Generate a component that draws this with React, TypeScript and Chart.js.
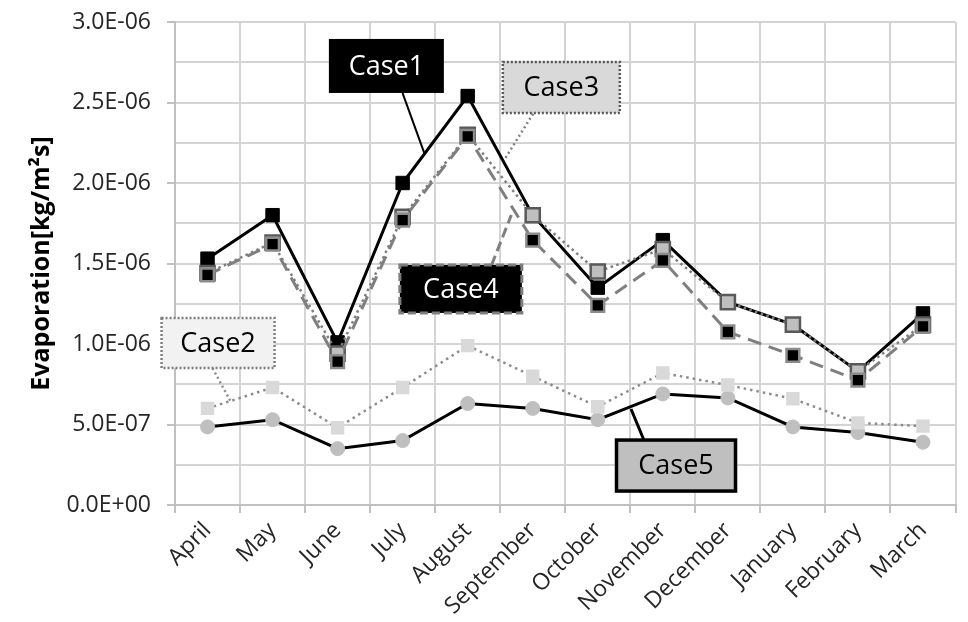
import { useEffect, useRef } from 'react';
import { Chart, registerables } from 'chart.js';

Chart.register(...registerables);

const months = ['April', 'May', 'June', 'July', 'August', 'September', 'October', 'November', 'December', 'January', 'February', 'March'];
const case1 = [1.53e-6, 1.80e-6, 1.01e-6, 2.00e-6, 2.54e-6, 1.80e-6, 1.35e-6, 1.645e-6, 1.26e-6, 1.12e-6, 0.83e-6, 1.19e-6];
const case2 = [0.60e-6, 0.73e-6, 0.48e-6, 0.73e-6, 0.99e-6, 0.80e-6, 0.61e-6, 0.82e-6, 0.745e-6, 0.66e-6, 0.51e-6, 0.49e-6];
const case3 = [1.44e-6, 1.63e-6, 0.94e-6, 1.79e-6, 2.30e-6, 1.80e-6, 1.45e-6, 1.59e-6, 1.26e-6, 1.12e-6, 0.83e-6, 1.12e-6];
const case4 = [1.43e-6, 1.62e-6, 0.89e-6, 1.77e-6, 2.29e-6, 1.645e-6, 1.24e-6, 1.52e-6, 1.075e-6, 0.93e-6, 0.775e-6, 1.11e-6];
const case5 = [0.485e-6, 0.53e-6, 0.35e-6, 0.40e-6, 0.63e-6, 0.60e-6, 0.53e-6, 0.69e-6, 0.665e-6, 0.485e-6, 0.45e-6, 0.39e-6];

const yTickLabels = ['0.0E+00', '5.0E-07', '1.0E-06', '1.5E-06', '2.0E-06', '2.5E-06', '3.0E-06'];
const yMinorStep = 2.5e-7;
const yTitle = 'Evaporation[kg/m²s]';

const FONT = '"Open Sans", "Noto Sans", sans-serif';

type Callout = {
  text: string;
  cx: number; cy: number; w: number; h: number;
  fill: string; textColor: string; border: string; borderWidth: number; dash: number[];
  from: [number, number]; to: [number, number];
  leaderColor: string; leaderWidth: number; leaderDash: number[];
};

const callouts: Callout[] = [
  { text: 'Case1', cx: 2.75, cy: 2.727e-6, w: 113, h: 52, fill: '#000', textColor: '#fff', border: '#000', borderWidth: 2, dash: [],
    from: [2.998, 2.56e-6], to: [3.333, 2.186e-6], leaderColor: '#000', leaderWidth: 2, leaderDash: [] },
  { text: 'Case3', cx: 5.44, cy: 2.593e-6, w: 117, h: 51, fill: '#d9d9d9', textColor: '#000', border: '#595959', borderWidth: 2.5, dash: [2, 2],
    from: [5.006, 2.43e-6], to: [4.58, 2.155e-6], leaderColor: '#7f7f7f', leaderWidth: 2.5, leaderDash: [2, 3] },
  { text: 'Case4', cx: 3.895, cy: 1.342e-6, w: 122, h: 48, fill: '#000', textColor: '#fff', border: '#7f7f7f', borderWidth: 3, dash: [8, 4],
    from: [4.367, 1.49e-6], to: [4.671, 1.801e-6], leaderColor: '#7f7f7f', leaderWidth: 3, leaderDash: [10, 5] },
  { text: 'Case2', cx: 0.162, cy: 1.006e-6, w: 113, h: 50, fill: '#f2f2f2', textColor: '#000', border: '#7f7f7f', borderWidth: 2.5, dash: [2, 2],
    from: [0.078, 0.85e-6], to: [0.367, 0.634e-6], leaderColor: '#8c8c8c', leaderWidth: 2.5, leaderDash: [2, 3] },
  { text: 'Case5', cx: 7.203, cy: 0.245e-6, w: 119, h: 51, fill: '#bfbfbf', textColor: '#000', border: '#000', borderWidth: 3.5, dash: [],
    from: [6.709, 0.404e-6], to: [6.511, 0.596e-6], leaderColor: '#000', leaderWidth: 3, leaderDash: [] },
];

const calloutPlugin = {
  id: 'callouts',
  afterDatasetsDraw(chart: any) {
    const { ctx, scales } = chart;
    const xs = scales.x;
    const ys = scales.y;
    ctx.save();
    for (const c of callouts) {
      const fx = xs.getPixelForValue(c.from[0]);
      const fy = ys.getPixelForValue(c.from[1]);
      const tx = xs.getPixelForValue(c.to[0]);
      const ty = ys.getPixelForValue(c.to[1]);
      ctx.beginPath();
      ctx.setLineDash(c.leaderDash);
      ctx.strokeStyle = c.leaderColor;
      ctx.lineWidth = c.leaderWidth;
      ctx.moveTo(fx, fy);
      ctx.lineTo(tx, ty);
      ctx.stroke();
    }
    for (const c of callouts) {
      const px = xs.getPixelForValue(c.cx);
      const py = ys.getPixelForValue(c.cy);
      const x0 = px - c.w / 2;
      const y0 = py - c.h / 2;
      ctx.setLineDash([]);
      ctx.fillStyle = c.fill;
      ctx.fillRect(x0, y0, c.w, c.h);
      ctx.setLineDash(c.dash);
      ctx.strokeStyle = c.border;
      ctx.lineWidth = c.borderWidth;
      ctx.strokeRect(x0, y0, c.w, c.h);
      ctx.setLineDash([]);
      ctx.fillStyle = c.textColor;
      ctx.font = `27px ${FONT}`;
      ctx.textAlign = 'center';
      ctx.textBaseline = 'middle';
      ctx.fillText(c.text, px, py + 1);
    }
    ctx.restore();
  },
  afterDraw(chart: any) {
    const { ctx, chartArea } = chart;
    ctx.save();
    ctx.translate(42, (chartArea.top + chartArea.bottom) / 2);
    ctx.rotate(-Math.PI / 2);
    ctx.font = `bold 25px ${FONT}`;
    ctx.fillStyle = '#000';
    ctx.textAlign = 'center';
    ctx.textBaseline = 'middle';
    ctx.fillText(yTitle, 0, 0);
    ctx.restore();
  },
};

export default function App() {
  const ref = useRef<HTMLCanvasElement | null>(null);

  useEffect(() => {
    if (!ref.current) return;
    const tickFont = { family: FONT, size: 23 };
    const chart = new Chart(ref.current, {
      type: 'line',
      data: {
        labels: months,
        datasets: [
          { label: 'Case4', data: case4, borderColor: '#7f7f7f', borderWidth: 3, borderDash: [14, 8],
            pointStyle: 'rect', pointRadius: 9, pointBackgroundColor: '#000', pointBorderColor: '#8c8c8c', pointBorderWidth: 2.5, tension: 0 },
          { label: 'Case3', data: case3, borderColor: '#7f7f7f', borderWidth: 2.5, borderDash: [2.5, 3.5],
            pointStyle: 'rect', pointRadius: 10, pointBackgroundColor: '#bfbfbf', pointBorderColor: '#595959', pointBorderWidth: 2.5, tension: 0 },
          { label: 'Case1', data: case1, borderColor: '#000', borderWidth: 3,
            pointStyle: 'rect', pointRadius: 9.5, pointBackgroundColor: '#000', pointBorderColor: '#000', pointBorderWidth: 1, tension: 0 },
          { label: 'Case2', data: case2, borderColor: '#8c8c8c', borderWidth: 2.5, borderDash: [2.5, 4],
            pointStyle: 'rect', pointRadius: 9.5, pointBackgroundColor: '#d9d9d9', pointBorderColor: '#d9d9d9', pointBorderWidth: 0, tension: 0 },
          { label: 'Case5', data: case5, borderColor: '#000', borderWidth: 3,
            pointStyle: 'circle', pointRadius: 7, pointBackgroundColor: '#bfbfbf', pointBorderColor: '#bfbfbf', pointBorderWidth: 1, tension: 0 },
        ],
      },
      options: {
        responsive: false,
        animation: false,
        layout: { padding: { top: 22, right: 4, left: 0, bottom: 0 } },
        plugins: { legend: { display: false }, tooltip: { enabled: false } },
        scales: {
          x: {
            offset: true,
            grid: { offset: true, color: '#d4d4d4', lineWidth: 2, tickLength: 8, tickColor: '#c0c0c0' },
            border: { color: '#c0c0c0', width: 2 },
            ticks: { font: tickFont, color: '#262626', minRotation: 45, maxRotation: 45, autoSkip: false, padding: 4 },
            afterFit: (s: any) => { s.height = 117; s.paddingRight = 0; },
          },
          y: {
            min: 0,
            max: 3e-6,
            afterBuildTicks: (s: any) => {
              const t = [];
              for (let i = 0; i <= 12; i++) t.push({ value: i * yMinorStep });
              s.ticks = t;
            },
            ticks: {
              font: tickFont,
              color: '#262626',
              padding: 16,
              callback: (_v: any, i: number) => (i % 2 === 0 ? yTickLabels[i / 2] : ''),
            },
            grid: {
              color: '#d4d4d4',
              lineWidth: 2,
              tickLength: 8,
              tickColor: (c: any) => (c.index % 2 === 0 ? '#c0c0c0' : 'rgba(0,0,0,0)'),
            },
            border: { color: '#c0c0c0', width: 2 },
            afterFit: (s: any) => { s.width = 175; s.paddingTop = 0; s.paddingBottom = 0; },
          },
        },
      },
      plugins: [calloutPlugin],
    } as any);
    return () => chart.destroy();
  }, []);

  return (
    <div style={{ position: 'fixed', left: 0, top: 0, width: 968, height: 622, background: '#fff' }}>
      <canvas ref={ref} width={968} height={622} />
    </div>
  );
}
